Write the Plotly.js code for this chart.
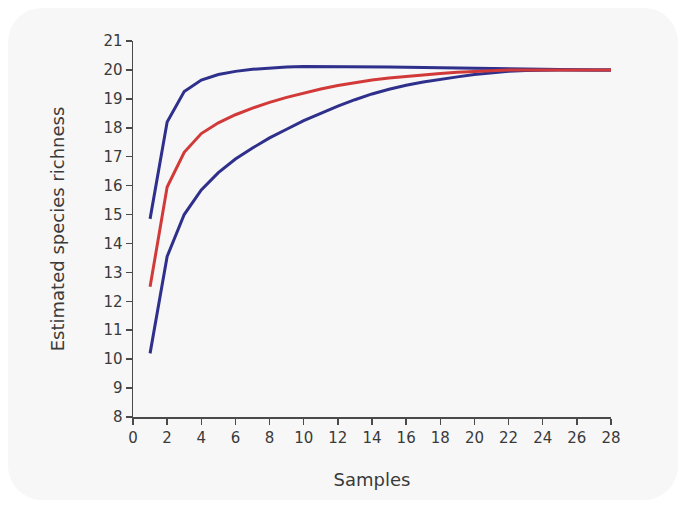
<!DOCTYPE html>
<html>
<head>
<meta charset="utf-8">
<script src="https://cdn.plot.ly/plotly-3.0.1.min.js"></script>
<style>
  html, body { margin: 0; padding: 0; background: #ffffff; }
  #panel {
    position: absolute; left: 8px; top: 8px; width: 670px; height: 492px;
    background: #f7f7f7; border-radius: 34px;
  }
  #chart { position: absolute; left: 0; top: 0; width: 684px; height: 508px; }
</style>
</head>
<body>
<div id="panel"></div>
<div id="chart"></div>
<script>
// Rarefaction curve: estimated richness with upper/lower confidence bounds
const samples = [1, 2, 3, 4, 5, 6, 7, 8, 9, 10, 11, 12, 13, 14, 15, 16, 17, 18, 19, 20, 21, 22, 23, 24, 25, 26, 27, 28];
const upperBound = [14.85, 18.2, 19.25, 19.65, 19.84, 19.95, 20.02, 20.07, 20.1, 20.12, 20.12, 20.12, 20.11, 20.11, 20.1, 20.09, 20.08, 20.07, 20.06, 20.05, 20.04, 20.03, 20.02, 20.01, 20.0, 20.0, 20.0, 20.0];
const estimate = [12.5, 15.95, 17.15, 17.8, 18.17, 18.45, 18.68, 18.88, 19.05, 19.2, 19.34, 19.46, 19.56, 19.65, 19.72, 19.78, 19.84, 19.88, 19.92, 19.95, 19.98, 20.0, 20.0, 20.0, 20.0, 20.0, 20.0, 20.0];
const lowerBound = [10.2, 13.55, 15.0, 15.85, 16.45, 16.92, 17.3, 17.65, 17.95, 18.25, 18.5, 18.75, 18.97, 19.17, 19.33, 19.47, 19.58, 19.68, 19.76, 19.84, 19.9, 19.95, 19.98, 20.0, 20.0, 20.0, 20.0, 20.0];
const xTicks = [0, 2, 4, 6, 8, 10, 12, 14, 16, 18, 20, 22, 24, 26, 28];
const yTicks = [8, 9, 10, 11, 12, 13, 14, 15, 16, 17, 18, 19, 20, 21];

const blue = '#2f2f8c';
const red = '#d23a3a';
const fontFamily = 'DejaVu Sans, Verdana, sans-serif';

const traces = [
  { x: samples, y: lowerBound, mode: 'lines', line: { color: blue, width: 3 }, hoverinfo: 'x+y' },
  { x: samples, y: upperBound, mode: 'lines', line: { color: blue, width: 3 }, hoverinfo: 'x+y' },
  { x: samples, y: estimate, mode: 'lines', line: { color: red, width: 3 }, hoverinfo: 'x+y' }
];

const axisStyle = {
  showline: true, linecolor: '#4a4a4a', linewidth: 1.5,
  ticks: 'outside', ticklen: 6, tickwidth: 1.5, tickcolor: '#4a4a4a',
  showgrid: false, zeroline: false,
  tickfont: { family: fontFamily, size: 15, color: '#3a3a3a' }
};

const layout = {
  width: 684, height: 508,
  margin: { l: 133, r: 73, t: 41, b: 91 },
  paper_bgcolor: 'rgba(0,0,0,0)',
  plot_bgcolor: 'rgba(0,0,0,0)',
  showlegend: false,
  xaxis: Object.assign({}, axisStyle, {
    range: [0, 28], tickmode: 'array', tickvals: xTicks,
    title: { text: 'Samples', standoff: 28,
      font: { family: fontFamily, size: 18, color: '#3a3a3a' } }
  }),
  yaxis: Object.assign({}, axisStyle, {
    range: [8, 21], tickmode: 'array', tickvals: yTicks,
    title: { text: 'Estimated species richness', standoff: 34,
      font: { family: fontFamily, size: 18, color: '#3a3a3a' } }
  })
};

Plotly.newPlot('chart', traces, layout, { displayModeBar: false, staticPlot: true });
</script>
</body>
</html>
